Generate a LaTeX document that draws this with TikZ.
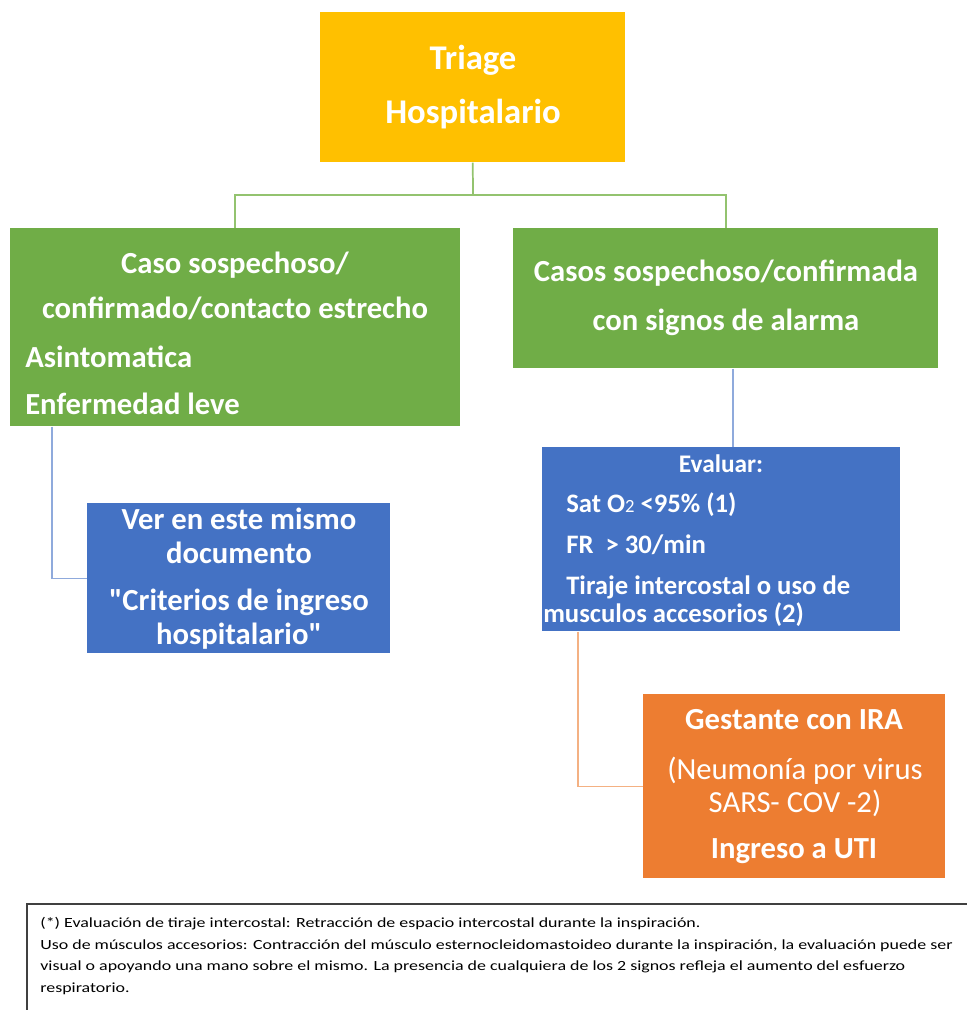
\documentclass[tikz,border=0pt]{standalone}
\usepackage{fontspec}
\setmainfont{Carlito}
\usetikzlibrary{calc}

\definecolor{triageyellow}{HTML}{FFC000}
\definecolor{casegreen}{HTML}{70AD47}
\definecolor{evalblue}{HTML}{4472C4}
\definecolor{utiorange}{HTML}{ED7D31}
\definecolor{linkgreen}{HTML}{93C36F}
\definecolor{linkblue}{HTML}{8FAADC}
\definecolor{linkorange}{HTML}{F4B183}
\definecolor{notegray}{HTML}{404040}

\tikzset{
  box/.style={draw=none, anchor=north west, inner sep=0pt},
  txt/.style={text=white, inner sep=0pt},
  greenline/.style={draw=linkgreen, line width=1.3pt},
  blueline/.style={draw=linkblue, line width=1.1pt},
  orangeline/.style={draw=linkorange, line width=1.1pt},
}

\begin{document}
\begin{tikzpicture}[x=0.75pt, y=-0.75pt]
  \useasboundingbox (0,0) rectangle (967,1010);

  % boxes
  \node[box, fill=triageyellow, minimum width=228.75pt, minimum height=112.5pt] (triage) at (320,12) {};
  \node[box, fill=casegreen, minimum width=337.5pt, minimum height=148.5pt] (caso) at (10,228) {};
  \node[box, fill=casegreen, minimum width=318.75pt, minimum height=105pt] (alarma) at (513,228) {};
  \node[box, fill=evalblue, minimum width=227.25pt, minimum height=112.5pt] (ver) at (87,503) {};
  \node[box, fill=evalblue, minimum width=268.5pt, minimum height=138pt] (evalu) at (542,447) {};
  \node[box, fill=utiorange, minimum width=226.5pt, minimum height=138pt] (uti) at (643,694) {};

  % texts
  \node[txt, font=\fontsize{26}{40}\selectfont\bfseries, align=center] (triagetxt) at (473,87) {Triage\\Hospitalario};
  \node[txt, font=\fontsize{23}{34}\selectfont\bfseries, align=center] (casotxt) at (235,286) {Caso sospechoso/\\confirmado/contacto estrecho};
  \node[txt, font=\fontsize{23}{35}\selectfont\bfseries, align=left, anchor=west] (casolist) at (25,380) {Asintomatica\\Enfermedad leve};
  \node[txt, font=\fontsize{23}{37}\selectfont\bfseries, align=center] (alarmatxt) at (726,298) {Casos sospechoso/confirmada\\con signos de alarma};
  \node[txt, font=\fontsize{23}{25.5}\selectfont\bfseries, align=center] (vertxt) at (239,536) {Ver en este mismo\\documento};
  \node[txt, font=\fontsize{23}{26}\selectfont\bfseries, align=center] (vercrit) at (239,619) {\textquotedbl Criterios de ingreso\\hospitalario\textquotedbl};
  \node[txt, font=\fontsize{19}{22}\selectfont\bfseries] (evaltit) at (721,464) {Evaluar:};
  \node[txt, font=\fontsize{20}{31}\selectfont\bfseries, align=left, anchor=west] (evallist) at (566,546)
    {Sat O{\fontsize{14}{14}\selectfont\mdseries 2} <95\% (1)\\FR\ \ > 30/min\\Tiraje intercostal o uso de};
  \node[txt, font=\fontsize{20}{22}\selectfont\bfseries, anchor=west] (evallast) at (543,615) {musculos accesorios (2)};
  \node[txt, font=\fontsize{23}{26}\selectfont\bfseries] (utitit) at (794,720) {Gestante con IRA};
  \node[txt, font=\fontsize{23}{25}\selectfont, align=center] (utisub) at (795,787) {(Neumonía por virus\\SARS- COV -2)};
  \node[txt, font=\fontsize{23}{26}\selectfont\bfseries] (utiend) at (794,851) {Ingreso a UTI};

  % connectors
  \coordinate (bus) at (473,195);
  \coordinate (tap) at (733,0);
  \draw[greenline] (triage.south) -- (bus);
  \draw[greenline] (caso.north) |- (bus) -| (alarma.north);
  \draw[blueline] ($(caso.south west)+(42,0)$) |- (ver.west);
  \draw[blueline] (alarma.south -| tap) -- (evalu.north -| tap);
  \draw[orangeline] ($(evalu.south west)+(36,0)$) |- (uti.west);

  % footnote
  \draw[notegray, line width=1.2pt] (27,904) rectangle (980,1020);
  \node[inner sep=0pt, anchor=west, align=left, xscale=1.28, transform shape, font=\fontsize{10.5}{16.3}\selectfont] (note) at (40,956)
    {(*) Evaluación de tiraje intercostal: Retracción de espacio intercostal durante la inspiración.\\
     Uso de músculos accesorios: Contracción del músculo esternocleidomastoideo durante la inspiración, la evaluación puede ser\\
     visual o apoyando una mano sobre el mismo. La presencia de cualquiera de los 2 signos refleja el aumento del esfuerzo\\
     respiratorio.};
\end{tikzpicture}
\end{document}
